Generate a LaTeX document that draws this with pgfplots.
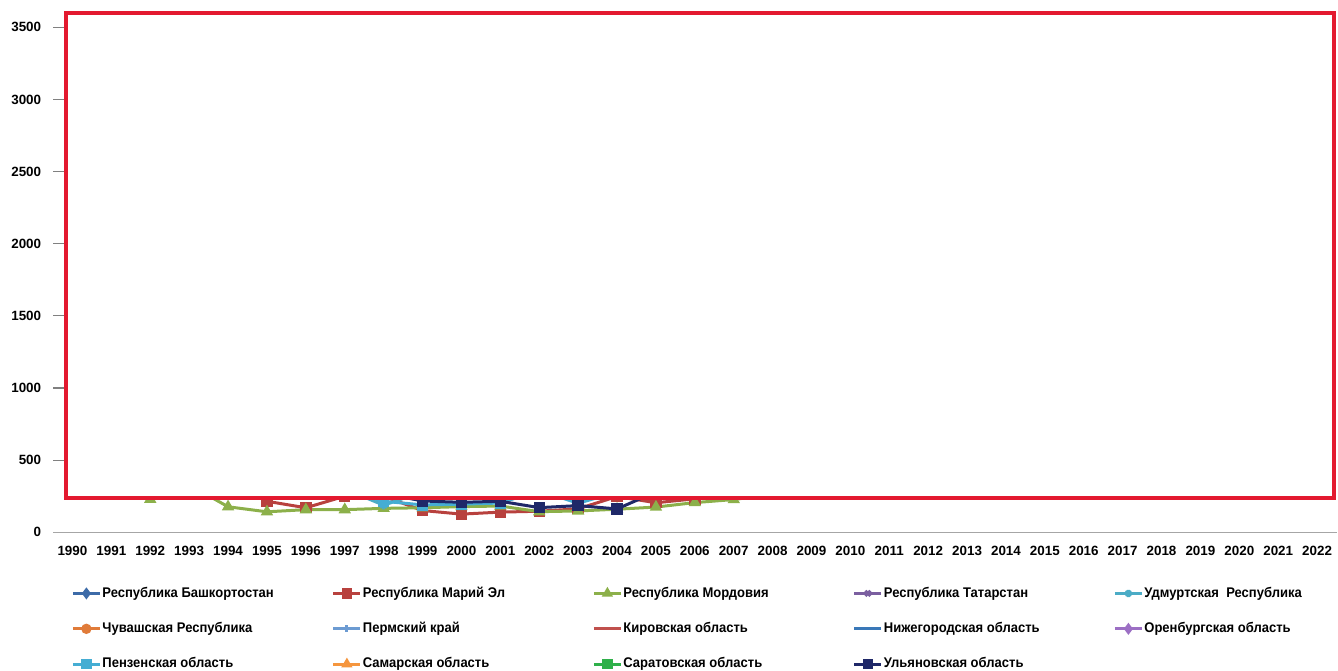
\documentclass[border=0pt]{standalone}
\usepackage{fontspec}
\setmainfont{Liberation Sans}
\newfontfamily\legfont[FakeStretch=0.93]{Liberation Sans}
\usepackage{pgfplots}
\pgfplotsset{compat=1.18}

\definecolor{cBash}{HTML}{3D6BA8}
\definecolor{cMari}{HTML}{B8413E}
\definecolor{cMord}{HTML}{8CB04A}
\definecolor{cTat}{HTML}{7B5FA0}
\definecolor{cUdm}{HTML}{4BACC6}
\definecolor{cChuv}{HTML}{E07B39}
\definecolor{cPerm}{HTML}{6C9BD2}
\definecolor{cKir}{HTML}{C0504D}
\definecolor{cNizh}{HTML}{3A78B8}
\definecolor{cOren}{HTML}{9C6FC4}
\definecolor{cPenz}{HTML}{45ADD3}
\definecolor{cSam}{HTML}{F5963E}
\definecolor{cSar}{HTML}{2FB04A}
\definecolor{cUlya}{HTML}{1F2868}
\definecolor{rectred}{HTML}{E3192F}

\newcommand{\legtxt}[1]{\makebox[115.25pt][l]{\hspace{0.5pt}#1}}

\begin{document}
\begin{tikzpicture}
\begin{axis}[
    set layers,
    at={(0pt,0pt)}, anchor=south west,
    scale only axis, width=641.85pt, height=259.7pt,
    xmin=1989.5, xmax=2022.5, ymin=0, ymax=3600,
    axis x line=bottom, axis y line=left,
    x axis line style={draw=gray!70, line width=0.7pt, -},
    y axis line style={draw=none},
    xtick={1990,...,2022}, ytick={0,500,...,3500},
    major x tick style={draw=none},
    major y tick style={draw=gray, line width=0.6pt},
    tick align=inside, major tick length=7pt,
    ticklabel style={font=\bfseries\fontsize{6.7}{8}\selectfont},
    /pgf/number format/1000 sep={},
    /pgf/number format/assume math mode=true,
    xticklabel style={yshift=-3.5pt},
    yticklabel style={xshift=-2.4pt},
    clip=false,
    every axis plot/.append style={line width=1.5pt, mark size=2.1pt, mark options={solid}},
    legend columns=5,
    legend cell align=left,
    legend image code/.code={\draw[mark repeat=2,mark phase=2,#1,mark size=1.8pt] plot coordinates {(0pt,0pt) (6.75pt,0pt) (13.5pt,0pt)};},
    legend style={
        at={(axis description cs:0,0)}, anchor=north west,
        xshift=9pt, yshift=-27pt,
        draw=none, fill=none, inner sep=0pt,
        font=\legfont\bfseries\fontsize{7}{8}\selectfont,
        nodes={inner sep=0pt, anchor=west},
        /tikz/every odd column/.append style={column sep=0pt},
        /tikz/every even column/.append style={column sep=0pt},
        row sep=11pt,
    },
]

\addlegendimage{cBash, mark=diamond*}
\addlegendentry{\legtxt{Республика Башкортостан}}

\addplot[cMari, mark=square*] coordinates {
    (1994,370)(1995,215)(1996,170)(1997,250)(1998,250)(1999,151)(2000,126)
    (2001,140)(2002,146)(2003,163)(2004,248)(2005,205)(2006,232)(2007,265)
};
\addlegendentry{\legtxt{Республика Марий Эл}}

\addplot[cMord, mark=triangle*] coordinates {
    (1991,300)(1992,229)(1993,330)(1994,177)(1995,142)(1996,157)(1997,157)
    (1998,166)(1999,170)(2000,178)(2001,182)(2002,143)(2003,148)(2004,160)
    (2005,175)(2006,206)(2007,227)(2008,265)
};
\addlegendentry{\legtxt{Республика Мордовия}}

\addlegendimage{cTat, mark=x}
\addlegendentry{\legtxt{Республика Татарстан}}

\addplot[cUdm, mark=asterisk] coordinates {
    (1997,300)(1998,188)(1999,280)
};
\addlegendentry{\legtxt{Удмуртская\ \ Республика}}

\addlegendimage{cChuv, mark=*}
\addlegendentry{\legtxt{Чувашская Республика}}

\addlegendimage{cPerm, mark=+}
\addlegendentry{\legtxt{Пермский край}}

\addlegendimage{cKir}
\addlegendentry{\legtxt{Кировская область}}

\addlegendimage{cNizh}
\addlegendentry{\legtxt{Нижегородская область}}

\addlegendimage{cOren, mark=diamond*}
\addlegendentry{\legtxt{Оренбургская область}}

\addplot[cPenz, mark=square*] coordinates {
    (1997,290)(1998,215)(1999,190)(2000,195)(2001,203)(2002,290)(2003,201)(2004,280)
};
\addlegendentry{\legtxt{Пензенская область}}

\addlegendimage{cSam, mark=triangle*}
\addlegendentry{\legtxt{Самарская область}}

\addlegendimage{cSar, mark=square*}
\addlegendentry{\legtxt{Саратовская область}}

\addplot[cUlya, mark=square*] coordinates {
    (1998,270)(1999,217)(2000,208)(2001,215)(2002,171)(2003,185)(2004,162)(2005,280)
};
\addlegendentry{\legtxt{Ульяновская область}}

% red frame laid over the upper part of the plot
\begin{pgfonlayer}{axis foreground}
\draw[draw=rectred, line width=1.6pt, fill=white]
    (axis cs:1989.834,238) rectangle (axis cs:2022.43,3599);
\end{pgfonlayer}
\end{axis}
\pgfresetboundingbox
\path[use as bounding box] (-26.5pt,-68.85pt) rectangle (642.5pt,266.15pt);
\end{tikzpicture}
\end{document}
